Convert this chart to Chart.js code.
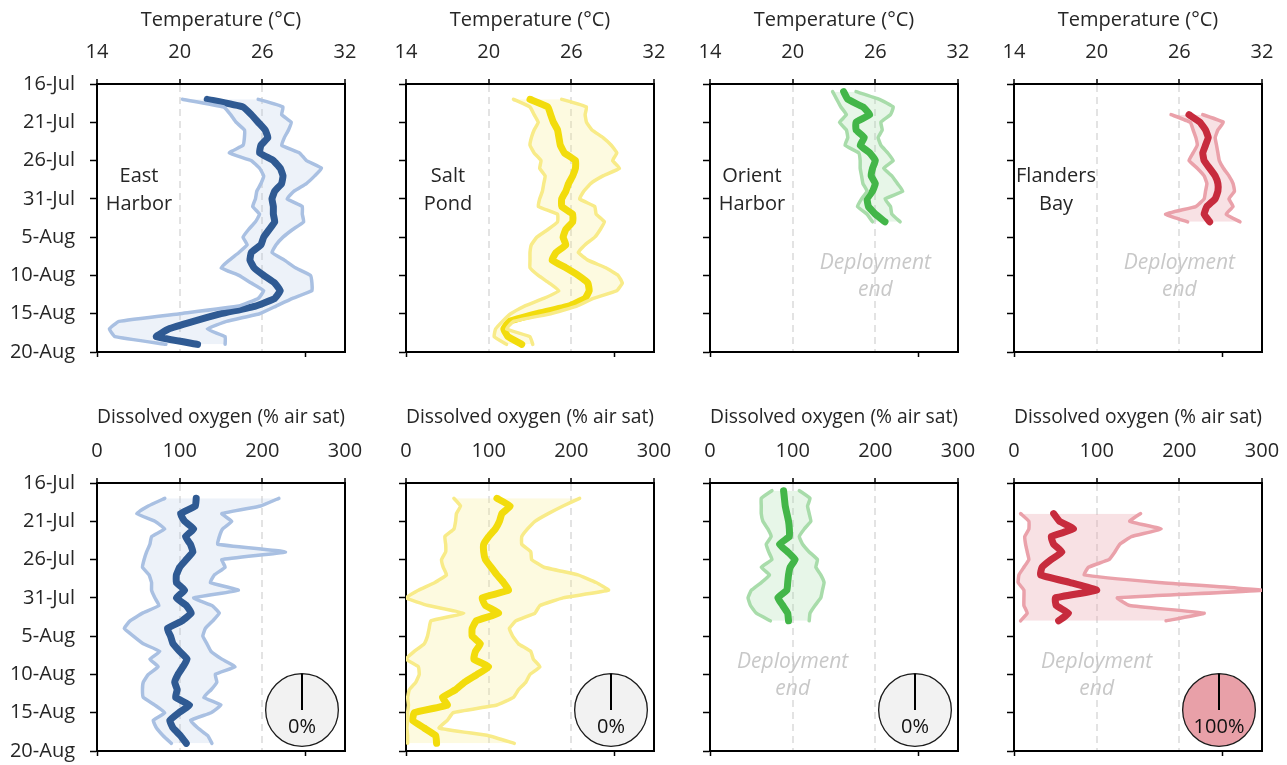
<!DOCTYPE html>
<html>
<head>
<meta charset="utf-8">
<title>Temperature and dissolved oxygen profiles</title>
<script src="https://cdn.jsdelivr.net/npm/chart.js@4.4.1/dist/chart.umd.min.js"></script>
<style>
  html, body { margin: 0; padding: 0; background: #fff; }
  body { position: relative; width: 1287px; height: 765px; overflow: hidden; }
  canvas { position: absolute; }
</style>
</head>
<body>
<script>
// date axis: days after 16-Jul, labelled every 5 days
const dateTicks = ['16-Jul', '21-Jul', '26-Jul', '31-Jul', '5-Aug', '10-Aug', '15-Aug', '20-Aug'];
const sites = [['East', 'Harbor'], ['Salt', 'Pond'], ['Orient', 'Harbor'], ['Flanders', 'Bay']];
const startDay = [2, 2, 1, 4];            // first daily value, days after 16-Jul
const deployedToEnd = [true, true, false, false];
const hypoxiaPct = [0, 0, 0, 100];

// daily temperature (°C)
const eastTempMin = [20.2, 23.2, 23.7, 24.1, 24.7, 24.7, 24.6, 23.6, 25.2, 25.8, 26.1, 25.9, 25.6, 25.5, 25.3, 25.8, 25.5, 25.0, 24.6, 24.9, 24.3, 23.6, 23.0, 24.3, 25.2, 26.1, 25.7, 24.3, 20.0, 15.6, 14.9, 15.3, 19.0];
const eastTempMax = [25.7, 27.5, 27.4, 28.1, 27.9, 27.6, 27.4, 28.7, 29.2, 30.3, 29.8, 29.2, 28.3, 27.8, 28.9, 28.9, 29.0, 28.2, 27.5, 27.0, 26.7, 27.6, 28.4, 29.5, 29.6, 29.6, 28.2, 27.0, 25.8, 23.4, 22.0, 23.3, 23.3];
const eastTempMean = [22.0, 24.6, 25.2, 25.7, 26.2, 26.4, 25.9, 25.8, 26.8, 27.3, 27.5, 27.4, 26.9, 26.7, 26.8, 26.8, 26.9, 26.5, 26.1, 25.9, 25.2, 25.1, 25.4, 26.1, 26.9, 27.3, 26.9, 25.5, 23.0, 21.0, 19.2, 18.3, 21.3];

const saltTempMin = [21.8, 23.0, 23.3, 23.6, 23.3, 23.1, 23.0, 23.3, 23.8, 23.7, 24.1, 24.0, 23.9, 23.7, 23.6, 25.0, 25.0, 24.3, 23.5, 23.1, 23.0, 23.0, 23.0, 23.6, 24.4, 25.1, 24.0, 22.6, 21.6, 21.0, 20.5, 20.4, 21.3];
const saltTempMax = [25.3, 27.1, 27.0, 27.1, 27.5, 28.3, 28.9, 29.3, 29.0, 29.5, 28.3, 27.4, 26.9, 26.6, 27.7, 27.8, 28.4, 28.1, 27.7, 27.0, 26.5, 27.2, 28.5, 29.4, 29.7, 29.3, 27.6, 26.4, 24.5, 21.8, 21.3, 23.0, 23.2];
const saltTempMean = [23.0, 24.3, 24.5, 24.7, 25.0, 25.1, 25.2, 25.5, 26.3, 26.3, 26.1, 25.8, 25.6, 25.3, 25.3, 26.1, 26.1, 25.6, 25.4, 25.6, 24.9, 24.6, 25.6, 26.5, 27.2, 27.3, 27.0, 25.8, 23.5, 21.5, 21.1, 21.4, 22.4];

const orientTempMin = [22.9, 23.2, 23.5, 23.9, 23.4, 23.9, 24.0, 23.8, 24.8, 24.9, 24.9, 25.0, 25.1, 25.4, 25.0, 24.7, 25.4, 25.8];
const orientTempMax = [24.6, 26.3, 27.3, 27.1, 26.4, 26.5, 26.2, 26.4, 26.9, 27.3, 26.6, 27.2, 27.6, 28.0, 26.7, 27.1, 27.2, 27.8];
const orientTempMean = [23.7, 24.0, 25.1, 25.6, 24.6, 24.6, 25.2, 24.9, 25.6, 26.0, 25.8, 25.7, 26.0, 25.8, 25.4, 25.5, 26.0, 26.7];

const flandersTempMin = [25.4, 26.8, 27.0, 27.2, 27.3, 27.0, 26.7, 27.3, 27.8, 28.0, 27.9, 27.8, 27.2, 25.0, 26.6];
const flandersTempMax = [27.7, 29.2, 28.8, 28.6, 28.7, 28.8, 28.9, 29.2, 29.6, 29.9, 30.0, 29.6, 29.9, 29.4, 30.4];
const flandersTempMean = [26.7, 27.5, 27.9, 28.1, 27.9, 27.7, 27.8, 28.2, 28.6, 28.8, 28.8, 28.6, 28.0, 27.8, 28.2];

// daily dissolved oxygen (% air saturation)
const eastDoMin = [82, 62, 48, 70, 82, 66, 64, 60, 57, 55, 63, 66, 66, 70, 75, 55, 40, 33, 44, 56, 76, 64, 74, 62, 56, 55, 56, 70, 82, 68, 72, 80, 90];
const eastDoMax = [220, 198, 151, 163, 152, 148, 146, 228, 151, 155, 142, 137, 171, 117, 139, 148, 140, 131, 128, 133, 138, 151, 167, 143, 145, 138, 129, 150, 138, 113, 122, 134, 139];
const eastDoMean = [120, 119, 101, 106, 117, 107, 113, 116, 108, 100, 96, 96, 106, 96, 108, 114, 103, 85, 89, 92, 100, 109, 104, 98, 94, 97, 95, 112, 99, 88, 92, 101, 108];

const saltDoMin = [58, 66, 61, 60, 58, 47, 48, 48, 43, 45, 49, 35, 15, 0, 27, 70, 30, 28, 26, 22, 10, 0, 15, 16, 12, 4, 2, 3, 2, 2, 1, 2, 2];
const saltDoMax = [210, 190, 172, 156, 147, 140, 140, 151, 152, 167, 208, 230, 245, 190, 162, 156, 133, 125, 129, 136, 151, 154, 162, 150, 145, 136, 130, 110, 57, 50, 40, 100, 131];
const saltDoMean = [110, 126, 116, 113, 108, 100, 94, 94, 96, 103, 110, 118, 124, 92, 96, 112, 85, 80, 80, 90, 84, 82, 100, 86, 71, 60, 44, 50, 10, 8, 22, 36, 37];

const orientDoMin = [75, 62, 62, 62, 64, 70, 74, 68, 71, 75, 62, 72, 62, 50, 46, 49, 56, 73];
const orientDoMax = [108, 121, 118, 120, 122, 114, 108, 112, 120, 130, 128, 134, 138, 136, 134, 127, 121, 120];
const orientDoMean = [89, 90, 91, 93, 95, 96, 96, 84, 94, 103, 97, 95, 94, 93, 82, 88, 94, 95];

const flandersDoMin = [8, 18, 18, 13, 14, 16, 18, 12, 6, 5, 12, 12, 12, 16, 8];
const flandersDoMax = [153, 140, 178, 142, 128, 122, 115, 90, 85, 175, 300, 125, 140, 230, 184];
const flandersDoMean = [48, 55, 72, 45, 48, 58, 45, 34, 32, 68, 100, 50, 51, 66, 54];

const tempMin = [eastTempMin, saltTempMin, orientTempMin, flandersTempMin];
const tempMax = [eastTempMax, saltTempMax, orientTempMax, flandersTempMax];
const tempMean = [eastTempMean, saltTempMean, orientTempMean, flandersTempMean];
const doMin = [eastDoMin, saltDoMin, orientDoMin, flandersDoMin];
const doMax = [eastDoMax, saltDoMax, orientDoMax, flandersDoMax];
const doMean = [eastDoMean, saltDoMean, orientDoMean, flandersDoMean];

// styling
const FONT = "'Open Sans', sans-serif";
const TEXT = '#262626';
const meanColors = ['#2f5a93', '#f2dc0c', '#43b649', '#c72b3d'];
const lightColors = ['#a9c0e2', '#f8eb88', '#a8dcaa', '#eaa1aa'];
const fillColors = ['rgba(169,192,226,0.21)', 'rgba(248,235,136,0.26)', 'rgba(168,220,170,0.27)', 'rgba(234,161,170,0.32)'];
const pieFill = '#e8a0a8';

const panelLeft = [97, 406, 710, 1014];
const panelTop = [84, 483];
// axis boxes are generous so Chart.js' label padding never shrinks the plot
const AXIS_L = 95, AXIS_T = 84, AXIS_R = 42, AXIS_B = 32, PLOT_W = 248, PLOT_H = 268;

Chart.defaults.font.family = FONT;
Chart.defaults.color = TEXT;

function addCanvas(left, top, w, h) {
  const cv = document.createElement('canvas');
  cv.width = w; cv.height = h;
  cv.style.left = left + 'px'; cv.style.top = top + 'px';
  document.body.appendChild(cv);
  return cv;
}

const toPoints = (vals, start) => vals.map((v, i) => ({ x: v, y: start + i }));

function drawPanel(row, col) {
  const isTemp = row === 0;
  const lo = isTemp ? 14 : 0, hi = isTemp ? 32 : 300;
  const start = startDay[col];
  const cv = addCanvas(panelLeft[col] - AXIS_L, panelTop[row] - AXIS_T,
    AXIS_L + PLOT_W + AXIS_R, AXIS_T + PLOT_H + AXIS_B);

  const notes = {
    id: 'notes',
    afterDatasetsDraw(chart) {
      const { ctx, chartArea: a } = chart;
      ctx.save();
      ctx.textAlign = 'center';
      ctx.textBaseline = 'middle';
      if (isTemp) {
        ctx.font = '20px ' + FONT;
        ctx.fillStyle = TEXT;
        ctx.fillText(sites[col][0], a.left + 42, a.top + 92);
        ctx.fillText(sites[col][1], a.left + 42, a.top + 120);
      }
      if (!deployedToEnd[col]) {
        const x = chart.scales.x.getPixelForValue(isTemp ? 26 : 100);
        ctx.font = 'italic 21px ' + FONT;
        ctx.fillStyle = '#c8c8c8';
        ctx.fillText('Deployment', x, a.top + 179);
        ctx.fillText('end', x, a.top + 206);
      }
      ctx.restore();
    }
  };

  new Chart(cv, {
    type: 'line',
    data: {
      datasets: [
        { data: toPoints((isTemp ? tempMin : doMin)[col], start), borderColor: lightColors[col], borderWidth: 3.5, fill: false },
        { data: toPoints((isTemp ? tempMax : doMax)[col], start), borderColor: lightColors[col], borderWidth: 3.5, fill: '-1', backgroundColor: fillColors[col] },
        { data: toPoints((isTemp ? tempMean : doMean)[col], start), borderColor: meanColors[col], borderWidth: 7, fill: false }
      ]
    },
    options: {
      indexAxis: 'y',
      responsive: false,
      animation: false,
      events: [],
      layout: { padding: 0 },
      elements: {
        point: { radius: 0 },
        line: { tension: 0.1, borderJoinStyle: 'round', borderCapStyle: 'round' }
      },
      plugins: {
        legend: { display: false },
        tooltip: { enabled: false },
        filler: { drawTime: 'beforeDatasetsDraw' }
      },
      scales: {
        x: {
          type: 'linear', position: 'top', min: lo, max: hi,
          ticks: { stepSize: isTemp ? 6 : 100, padding: 15, color: TEXT, font: { size: 20 } },
          title: {
            display: true,
            text: isTemp ? 'Temperature (°C)' : 'Dissolved oxygen (% air sat)',
            color: TEXT, font: { size: 20 },
            padding: { top: isTemp ? 8 : 6, bottom: 0 }
          },
          grid: {
            color: ctx => (ctx.tick && ctx.tick.value > lo && ctx.tick.value < hi) ? '#e3e3e3' : 'rgba(0,0,0,0)',
            lineWidth: 2, tickLength: 5, tickColor: '#000', tickWidth: 1.5
          },
          border: { color: '#000', width: 2, dash: [7, 5] },
          afterFit: s => { s.height = AXIS_T; }
        },
        y: {
          type: 'linear', position: 'left', min: 0, max: 35, reverse: true,
          ticks: {
            display: col === 0, stepSize: 5, padding: 15, color: TEXT, font: { size: 20 },
            callback: v => dateTicks[v / 5]
          },
          grid: { color: 'rgba(0,0,0,0)', tickLength: 7, tickColor: '#000', tickWidth: 1.5 },
          border: { color: '#000', width: 2 },
          afterFit: s => { s.width = AXIS_L; }
        },
        x2: {
          type: 'linear', position: 'bottom', min: 0, max: 1,
          ticks: { display: false },
          afterBuildTicks: s => { s.ticks = [{ value: 0 }, { value: 0.84 }]; },
          grid: { drawOnChartArea: false, color: '#000', tickLength: 5, tickColor: '#000', tickWidth: 1.5 },
          border: { color: '#000', width: 2 },
          afterFit: s => { s.height = AXIS_B; }
        },
        y2: {
          type: 'linear', position: 'right', min: 0, max: 1,
          ticks: { display: false },
          grid: { display: false },
          border: { color: '#000', width: 2 },
          afterFit: s => { s.width = AXIS_R; }
        }
      }
    },
    plugins: [notes]
  });
}

function drawPie(col) {
  const size = 78;
  const cx = panelLeft[col] + 205, cy = panelTop[1] + 227;
  const cv = addCanvas(cx - size / 2, cy - size / 2, size, size);
  const pct = hypoxiaPct[col];
  new Chart(cv, {
    type: 'pie',
    data: {
      labels: ['hypoxic', 'other'],
      datasets: [{
        data: [pct, 100 - pct],
        backgroundColor: [pieFill, '#f2f2f2'],
        borderColor: '#1a1a1a', borderWidth: 1.3, hoverOffset: 0
      }]
    },
    options: {
      responsive: false, animation: false, events: [],
      layout: { padding: 2 },
      plugins: { legend: { display: false }, tooltip: { enabled: false } }
    },
    plugins: [{
      id: 'pieLabel',
      afterDraw(chart) {
        const arc = chart.getDatasetMeta(0).data[0];
        const { ctx } = chart;
        ctx.save();
        ctx.strokeStyle = '#000';
        ctx.lineWidth = 2;
        ctx.beginPath();
        ctx.moveTo(arc.x, arc.y - arc.outerRadius);
        ctx.lineTo(arc.x, arc.y);
        ctx.stroke();
        ctx.fillStyle = '#111';
        ctx.font = '20px ' + FONT;
        ctx.textAlign = 'center';
        ctx.textBaseline = 'middle';
        ctx.fillText(pct + '%', arc.x, arc.y + 17);
        ctx.restore();
      }
    }]
  });
}

for (let row = 0; row < 2; row++) {
  for (let col = 0; col < 4; col++) drawPanel(row, col);
}
for (let col = 0; col < 4; col++) drawPie(col);
</script>
</body>
</html>
